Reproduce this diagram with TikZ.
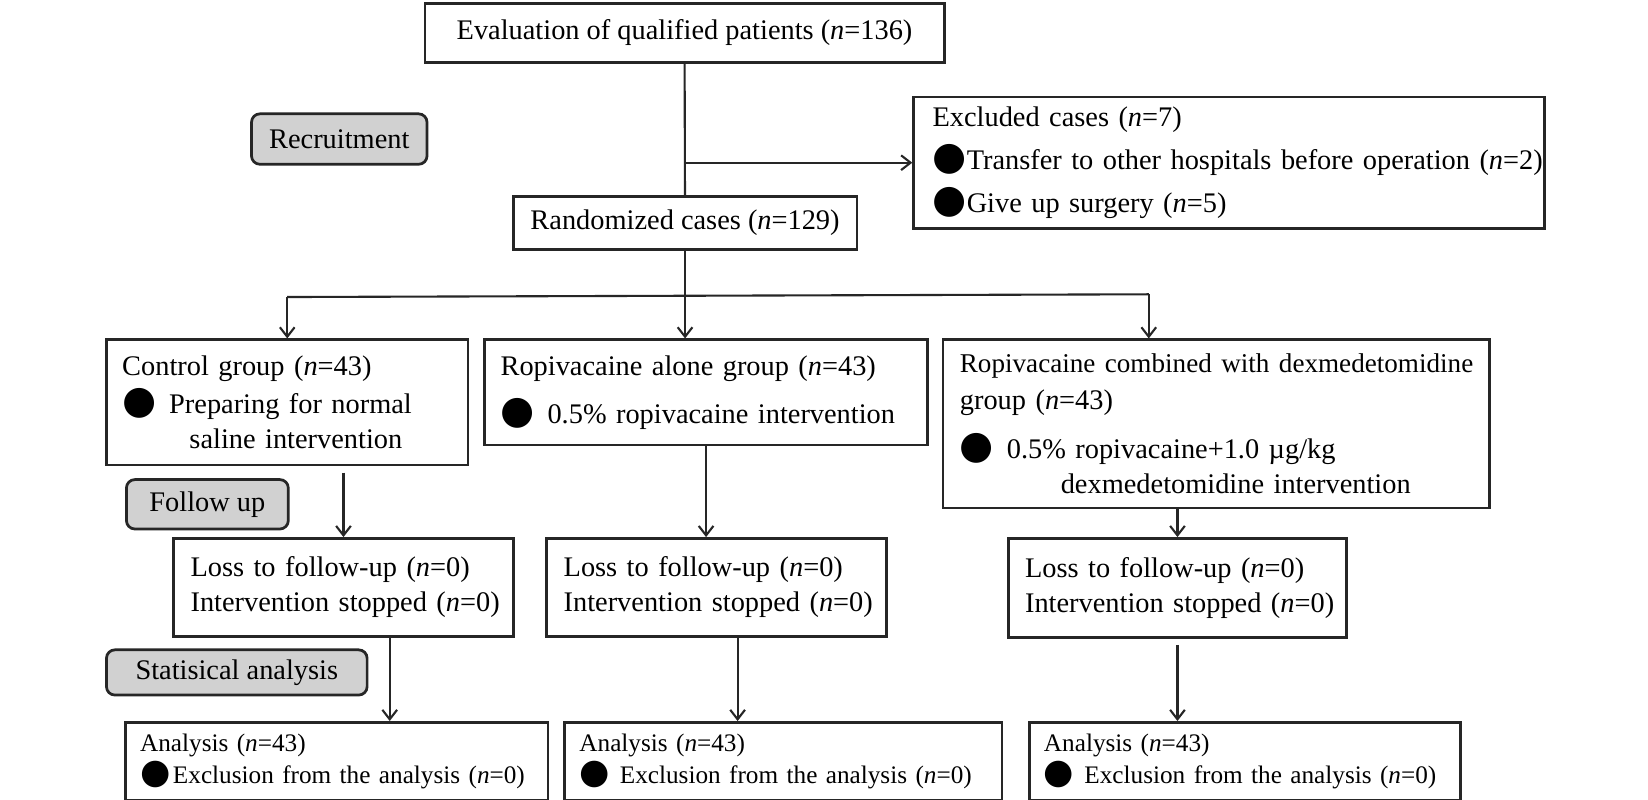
\documentclass[tikz,border=0pt]{standalone}
\usepackage{fontspec}
\setmainfont{Liberation Serif}
\newfontfamily\dotfont{DejaVu Sans}[Scale=1.38]
\usetikzlibrary{arrows.meta}
\newcommand{\ncase}[1]{(\textit{n}=#1)}
\newcommand{\bulletdot}{\smash{\dotfont ●}}

\begin{document}
\begin{tikzpicture}[x=0.5pt,y=-0.5pt,
    font=\fontsize{13.5}{16.5}\selectfont,
    box/.style={draw=black!85, line width=1.3pt, anchor=north west, inner ysep=0pt, align=left},
    cbox/.style={draw=black!85, line width=1.3pt, anchor=north west, inner sep=0pt, align=center},
    phase/.style={draw=black!85, line width=1.3pt, fill=black!18, rounded corners=4pt, anchor=north west, inner sep=0pt},
    link/.style={draw=black!85, line width=1pt},
    flow/.style={link, -{Straight Barb[length=4.5pt,width=7pt]}}]
  \path[use as bounding box, fill=white] (0,0) rectangle (1568,761);

  \node[cbox, minimum width=247pt, minimum height=28pt] (eval) at (403,2) {Evaluation of qualified patients \ncase{136}};
  \node[phase, minimum width=83.5pt, minimum height=24pt] (recruit) at (238,107) {Recruitment};
  \node[box, inner xsep=9pt, text width=282pt, minimum height=62.5pt, font=\fontsize{13.5}{20.5}\selectfont] (excl) at (868,91)
    {Excluded cases \ncase{7}\\ \mbox{\bulletdot Transfer to other hospitals before operation \ncase{2}}\\ \bulletdot Give up surgery \ncase{5}};
  \node[cbox, minimum width=163.5pt, minimum height=25pt] (rand) at (487,186) {Randomized cases \ncase{129}};

  \node[box, inner xsep=7.5pt, text width=157pt, minimum height=59.5pt] (ctrl) at (100,322)
    {Control group \ncase{43}\\[1.5pt] \bulletdot\hspace{0.45em}Preparing for normal\\ \hspace*{32pt}saline intervention};
  \node[box, inner xsep=7.5pt, text width=195.5pt, minimum height=50pt] (ropi) at (460,322)
    {Ropivacaine alone group \ncase{43}\\[6.5pt] \bulletdot\hspace{0.45em}0.5\% ropivacaine intervention};
  \node[box, inner xsep=8pt, text width=244pt, minimum height=80pt] (comb) at (896,322)
    {\mbox{\fontsize{12.9}{16.5}\selectfont Ropivacaine combined with dexmedetomidine}\\[1pt] group \ncase{43}\\[7pt] \bulletdot\hspace{0.45em}0.5\% ropivacaine+1.0 µg/kg\\ \hspace*{48pt}dexmedetomidine intervention};

  \node[phase, minimum width=77pt, minimum height=23.5pt] (follow) at (119,455) {Follow up};
  \node[box, inner xsep=8pt, text width=145.5pt, minimum height=46.5pt] (loss1) at (164,511) {Loss to follow-up \ncase{0}\\ \mbox{Intervention stopped \ncase{0}}};
  \node[box, inner xsep=8pt, text width=145.5pt, minimum height=46.5pt] (loss2) at (519,511) {Loss to follow-up \ncase{0}\\ \mbox{Intervention stopped \ncase{0}}};
  \node[box, inner xsep=8pt, text width=145pt, minimum height=47pt] (loss3) at (958,511) {Loss to follow-up \ncase{0}\\ \mbox{Intervention stopped \ncase{0}}};

  \node[phase, minimum width=124pt, minimum height=21.5pt] (stat) at (100,617) {Statisical analysis};
  \node[box, inner xsep=7pt, text width=187pt, minimum height=37pt, font=\fontsize{12}{15.5}\selectfont] (ana1) at (118,686)
    {Analysis \ncase{43}\\ \bulletdot\hspace{0.1em}Exclusion from the analysis \ncase{0}};
  \node[box, inner xsep=7pt, text width=194pt, minimum height=37pt, font=\fontsize{12}{15.5}\selectfont] (ana2) at (536,686)
    {Analysis \ncase{43}\\ \bulletdot\hspace{0.4em}Exclusion from the analysis \ncase{0}};
  \node[box, inner xsep=7pt, text width=191pt, minimum height=37pt, font=\fontsize{12}{15.5}\selectfont] (ana3) at (978,686)
    {Analysis \ncase{43}\\ \bulletdot\hspace{0.4em}Exclusion from the analysis \ncase{0}};

  \coordinate (split) at ([yshift=-22pt]rand.south);
  \coordinate (combin) at (1093,280);
  \draw[link] (eval) -- (rand);
  \draw[flow] (eval.south |- excl.west) -- (excl);
  \draw[link] (rand) -- (split);
  \draw[link] (split -| ctrl.north) -- (combin);
  \draw[flow] (split -| ctrl.north) -- (ctrl);
  \draw[flow] (split) -- (split |- ropi.north);
  \draw[flow] (combin) -- (combin |- comb.north);
  \draw[flow, shorten <=3pt] (loss1.north |- ctrl.south) -- (loss1);
  \draw[flow] (ropi) -- (ropi.south |- loss2.north);
  \draw[flow] (loss3.north |- comb.south) -- (loss3);
  \draw[flow] ([xshift=22pt]loss1.south) -- ([xshift=22pt]loss1.south |- ana1.north);
  \draw[flow] ([xshift=10pt]loss2.south) -- ([xshift=10pt]loss2.south |- ana2.north);
  \draw[flow, shorten <=3pt] (loss3) -- (loss3.south |- ana3.north);
\end{tikzpicture}
\end{document}
